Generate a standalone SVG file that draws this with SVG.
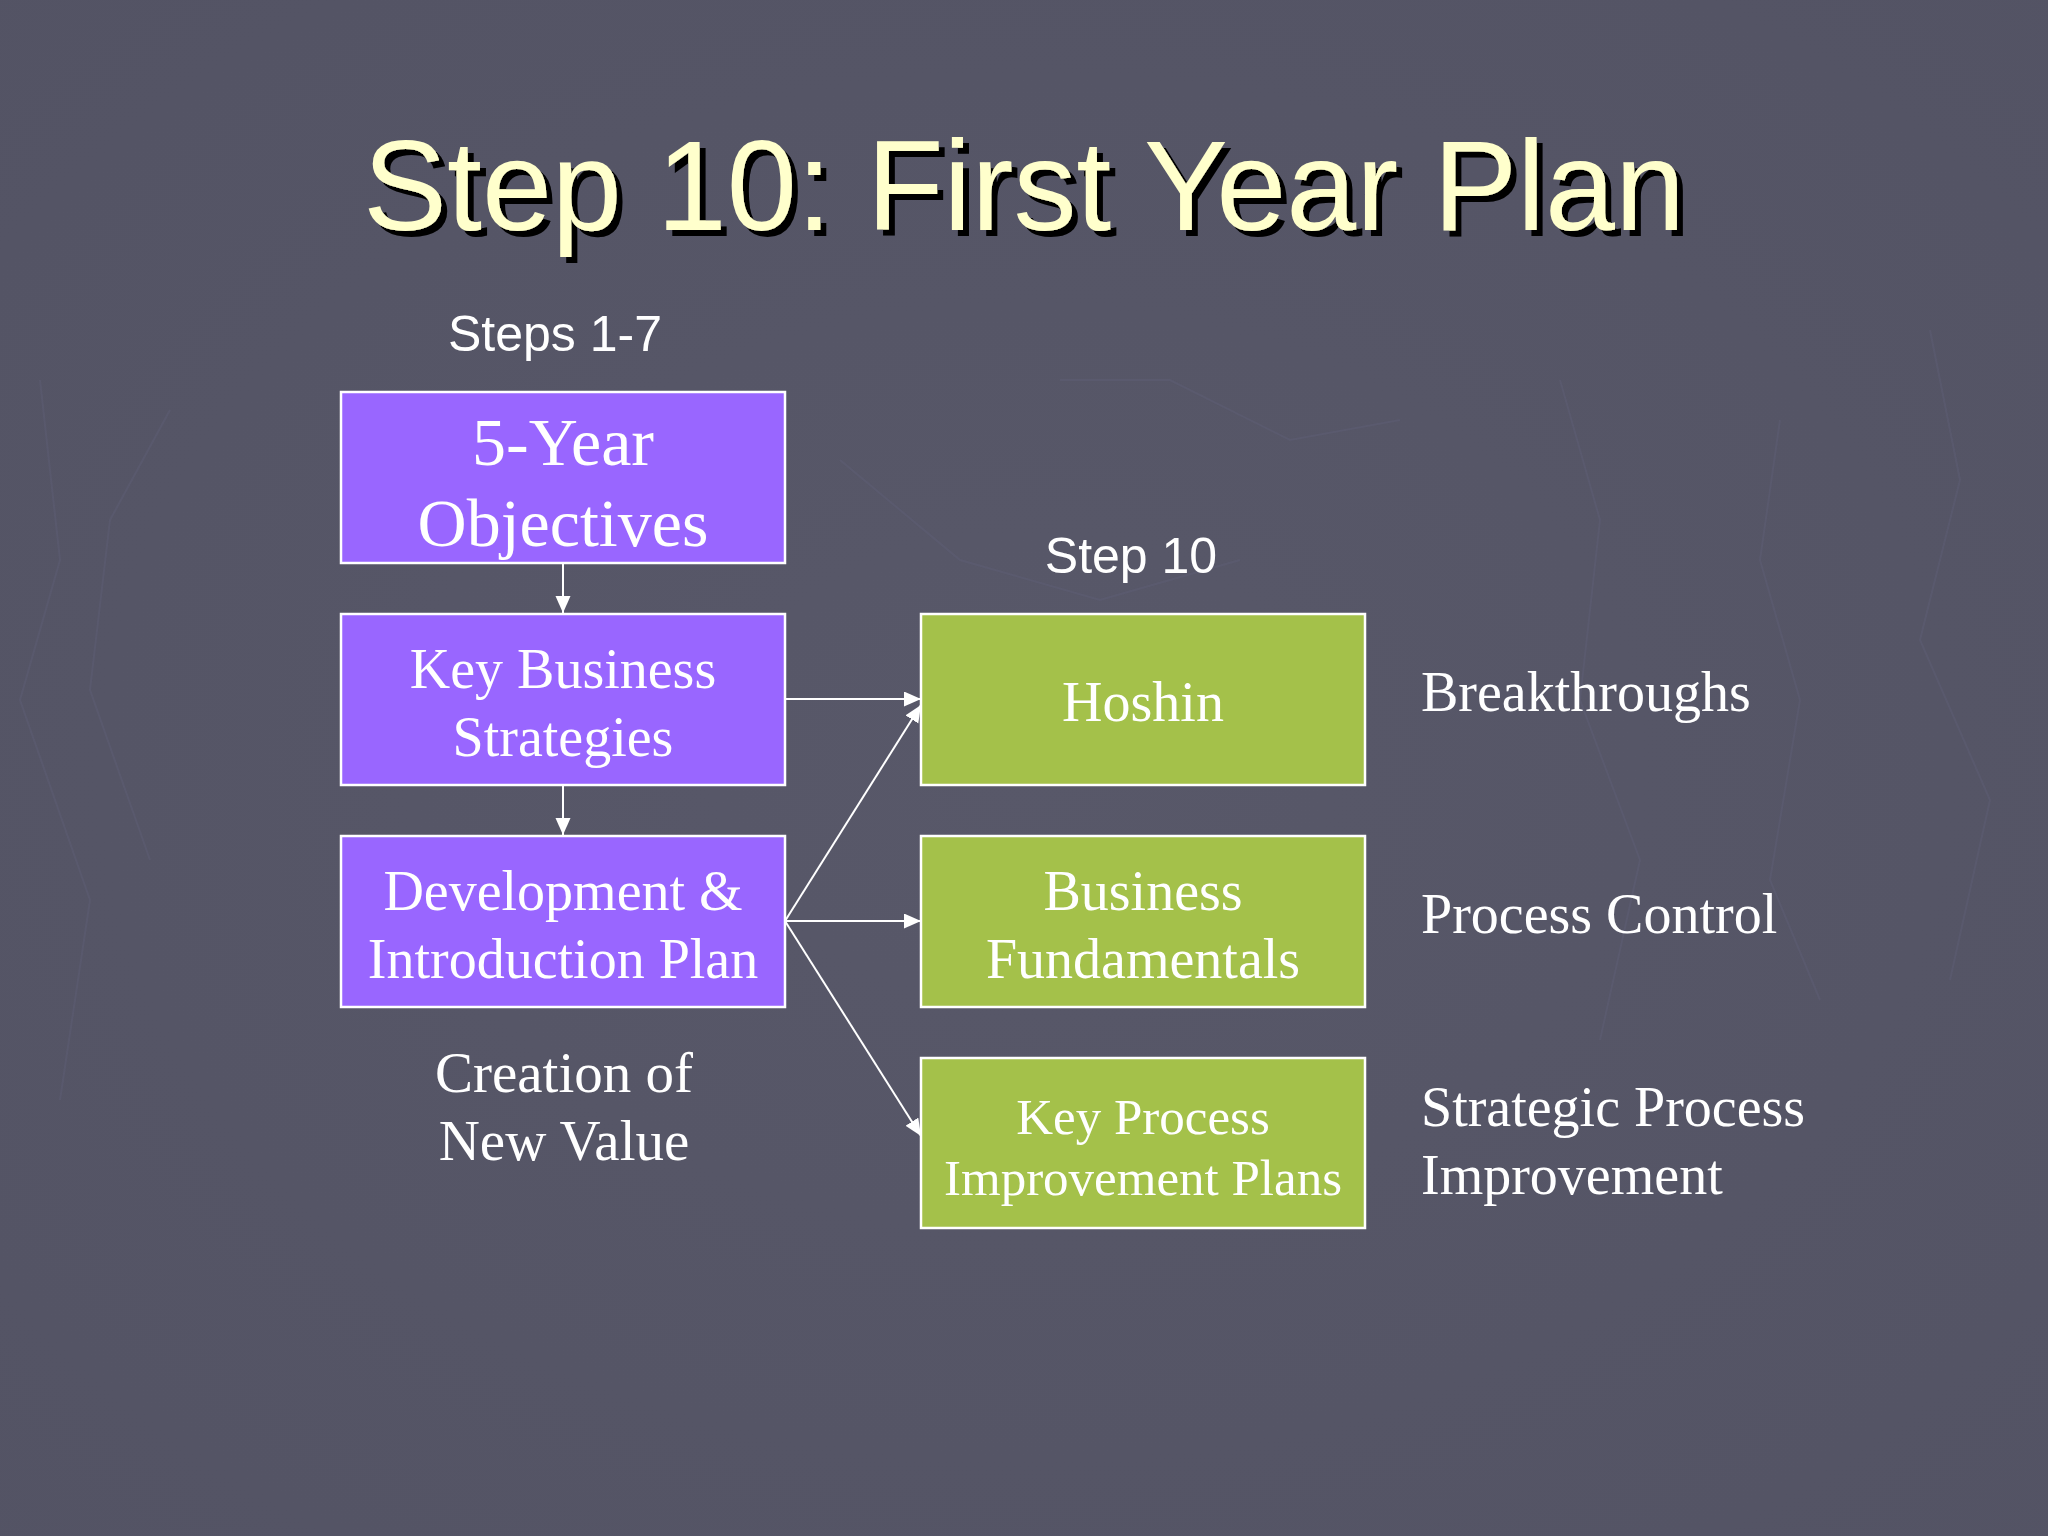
<svg xmlns="http://www.w3.org/2000/svg" width="2048" height="1536" viewBox="0 0 2048 1536">
  <defs>
    <marker id="arrow" markerUnits="userSpaceOnUse" markerWidth="18" markerHeight="16" refX="17" refY="7.5" orient="auto">
      <path d="M0,0 L17,7.5 L0,15 z" fill="#FFFFFF"/>
    </marker>
    <radialGradient id="bg" cx="0.5" cy="0.5" r="0.75">
      <stop offset="0" stop-color="#585869"/>
      <stop offset="1" stop-color="#535364"/>
    </radialGradient>
    <filter id="shadow" x="-5%" y="-20%" width="110%" height="140%">
      <feFlood flood-color="#000000" result="black"/>
      <feComposite in="black" in2="SourceAlpha" operator="in" result="shape"/>
      <feOffset in="shape" dx="6" dy="6" result="off"/>
      <feMerge>
        <feMergeNode in="off"/>
        <feMergeNode in="SourceGraphic"/>
      </feMerge>
    </filter>
  </defs>
  <style>
    .purple { fill: #9966FF; stroke: #FFFFFF; stroke-width: 2.5; }
    .green { fill: #A4C14A; stroke: #FFFFFF; stroke-width: 2.5; }
    .serif { font-family: "Liberation Serif", "Times New Roman", serif; fill: #FFFFFF; }
    .sans { font-family: "Liberation Sans", Arial, sans-serif; fill: #FFFFFF; }
    .c { text-anchor: middle; }
    .conn { stroke: #FFFFFF; stroke-width: 2; fill: none; marker-end: url(#arrow); }
    .bgline { stroke: #62627a; stroke-width: 2; fill: none; opacity: 0.35; }
  </style>
  <rect x="0" y="0" width="2048" height="1536" fill="url(#bg)"/>
  <g id="background-texture">
    <polyline class="bgline" points="40,380 60,560 20,700 90,900 60,1100"/>
    <polyline class="bgline" points="170,410 110,520 90,690 150,860"/>
    <polyline class="bgline" points="1560,380 1600,520 1580,700 1640,860 1600,1040"/>
    <polyline class="bgline" points="1780,420 1760,560 1800,700 1770,880 1820,1000"/>
    <polyline class="bgline" points="1930,330 1960,480 1920,640 1990,800 1950,980"/>
    <polyline class="bgline" points="840,460 960,560 1100,600 1240,560"/>
    <polyline class="bgline" points="1060,380 1170,380 1290,440 1400,420"/>
  </g>
  <g id="title">
    <text x="1024" y="230" class="c" font-family="Liberation Sans, Arial, sans-serif" font-size="128" fill="#FFFFCC" textLength="1322" lengthAdjust="spacingAndGlyphs" filter="url(#shadow)">Step 10: First Year Plan</text>
  </g>
  <g id="label-steps-1-7">
    <text x="555" y="351" class="sans c" font-size="50">Steps 1-7</text>
  </g>
  <g id="label-step-10">
    <text x="1131" y="573" class="sans c" font-size="50">Step 10</text>
  </g>
  <g id="connectors">
    <line class="conn" x1="563" y1="563" x2="563" y2="613"/>
    <line class="conn" x1="563" y1="785" x2="563" y2="835"/>
    <line class="conn" x1="785" y1="699" x2="921" y2="699"/>
    <line class="conn" x1="785" y1="921" x2="921" y2="705"/>
    <line class="conn" x1="785" y1="921" x2="921" y2="921"/>
    <line class="conn" x1="785" y1="921" x2="921" y2="1136"/>
  </g>
  <g id="node-5-year-objectives">
    <rect class="purple" x="341" y="392" width="444" height="171"/>
    <text x="563" y="465" class="serif c" font-size="68">5-Year</text>
    <text x="563" y="546" class="serif c" font-size="68">Objectives</text>
  </g>
  <g id="node-key-business-strategies">
    <rect class="purple" x="341" y="614" width="444" height="171"/>
    <text x="563" y="688" class="serif c" font-size="56">Key Business</text>
    <text x="563" y="756" class="serif c" font-size="56">Strategies</text>
  </g>
  <g id="node-development-introduction-plan">
    <rect class="purple" x="341" y="836" width="444" height="171"/>
    <text x="563" y="910" class="serif c" font-size="56">Development &amp;</text>
    <text x="563" y="978" class="serif c" font-size="56">Introduction Plan</text>
  </g>
  <g id="label-creation-of-new-value">
    <text x="564" y="1092" class="serif c" font-size="57">Creation of</text>
    <text x="564" y="1160" class="serif c" font-size="57">New Value</text>
  </g>
  <g id="node-hoshin">
    <rect class="green" x="921" y="614" width="444" height="171"/>
    <text x="1143" y="721" class="serif c" font-size="56">Hoshin</text>
  </g>
  <g id="node-business-fundamentals">
    <rect class="green" x="921" y="836" width="444" height="171"/>
    <text x="1143" y="910" class="serif c" font-size="56">Business</text>
    <text x="1143" y="978" class="serif c" font-size="56">Fundamentals</text>
  </g>
  <g id="node-key-process-improvement-plans">
    <rect class="green" x="921" y="1058" width="444" height="170"/>
    <text x="1143" y="1134" class="serif c" font-size="51">Key Process</text>
    <text x="1143" y="1195" class="serif c" font-size="51">Improvement Plans</text>
  </g>
  <g id="label-breakthroughs">
    <text x="1421" y="711" class="serif" font-size="56">Breakthroughs</text>
  </g>
  <g id="label-process-control">
    <text x="1421" y="933" class="serif" font-size="56">Process Control</text>
  </g>
  <g id="label-strategic-process-improvement">
    <text x="1421" y="1126" class="serif" font-size="56">Strategic Process</text>
    <text x="1421" y="1194" class="serif" font-size="56">Improvement</text>
  </g>
</svg>
